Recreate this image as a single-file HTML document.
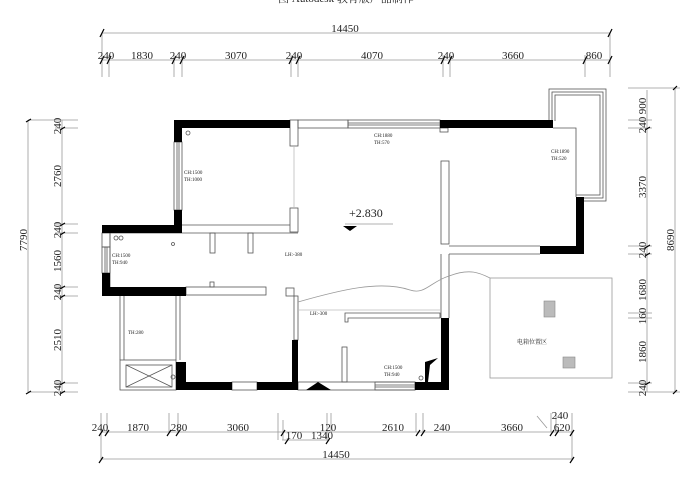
<!DOCTYPE html>
<html><head><meta charset="utf-8"><style>
html,body{margin:0;padding:0;background:#fff;width:693px;height:477px;overflow:hidden}
svg{display:block}
text{font-family:"Liberation Serif","Noto Serif CJK SC",serif;fill:#222}
</style></head><body>
<svg width="693" height="477" viewBox="0 0 693 477">
<g stroke="#999" stroke-width="0.8" fill="none">
<line x1="102" y1="33" x2="610" y2="33"/>
<line x1="102" y1="60" x2="610" y2="60"/>
<line x1="102" y1="33" x2="102" y2="77"/><line x1="610" y1="33" x2="610" y2="77"/>
<line x1="109" y1="55" x2="109" y2="77"/><line x1="174" y1="55" x2="174" y2="77"/><line x1="182" y1="55" x2="182" y2="77"/>
<line x1="291" y1="55" x2="291" y2="77"/><line x1="298" y1="55" x2="298" y2="77"/><line x1="443" y1="55" x2="443" y2="77"/>
<line x1="450" y1="55" x2="450" y2="77"/><line x1="585" y1="55" x2="585" y2="77"/>
<line x1="28" y1="120" x2="28" y2="392"/><line x1="62" y1="120" x2="62" y2="392"/>
<line x1="28" y1="120" x2="78" y2="120"/><line x1="28" y1="392" x2="78" y2="392"/>
<line x1="55" y1="128" x2="78" y2="128"/><line x1="55" y1="224" x2="78" y2="224"/><line x1="55" y1="233" x2="78" y2="233"/>
<line x1="55" y1="287" x2="78" y2="287"/><line x1="55" y1="296" x2="78" y2="296"/><line x1="55" y1="383" x2="78" y2="383"/>
<line x1="647" y1="90" x2="647" y2="392"/><line x1="675" y1="88" x2="675" y2="392"/>
<line x1="628" y1="88" x2="680" y2="88"/><line x1="628" y1="392" x2="680" y2="392"/>
<line x1="628" y1="120" x2="652" y2="120"/><line x1="628" y1="128" x2="652" y2="128"/>
<line x1="628" y1="246" x2="652" y2="246"/><line x1="628" y1="254" x2="652" y2="254"/>
<line x1="628" y1="313" x2="652" y2="313"/><line x1="628" y1="318" x2="652" y2="318"/><line x1="628" y1="383" x2="652" y2="383"/>
<line x1="101" y1="432" x2="572" y2="432"/><line x1="101" y1="459" x2="572" y2="459"/>
<line x1="282" y1="440" x2="328" y2="440"/>
<line x1="101" y1="413" x2="101" y2="459"/><line x1="572" y1="413" x2="572" y2="459"/>
<line x1="107" y1="413" x2="107" y2="432"/><line x1="169" y1="413" x2="169" y2="432"/><line x1="178" y1="413" x2="178" y2="432"/>
<line x1="278" y1="413" x2="278" y2="440"/><line x1="283" y1="420" x2="283" y2="440"/><line x1="327" y1="413" x2="327" y2="440"/>
<line x1="331" y1="413" x2="331" y2="432"/><line x1="416" y1="413" x2="416" y2="432"/><line x1="423" y1="413" x2="423" y2="432"/>
<line x1="551" y1="413" x2="551" y2="432"/><line x1="556" y1="413" x2="556" y2="432"/>
<line x1="537" y1="416" x2="547" y2="428"/>
</g>
<g stroke="#000" stroke-width="1.2">
<path d="M100 37l4-8M608 37l4-8M100 64l4-8M107 64l4-8M172 64l4-8M180 64l4-8M289 64l4-8M296 64l4-8M441 64l4-8M448 64l4-8M583 64l4-8M608 64l4-8"/>
<path d="M26 122l5-3M26 394l5-3M60 130l5-3M60 226l5-3M60 235l5-3M60 289l5-3M60 298l5-3M60 385l5-3M60 394l5-3"/>
<path d="M645 130l5-3M645 248l5-3M645 256l5-3M645 385l5-3M673 90l4-4M673 394l4-4"/>
<path d="M99 436l4-6M105 436l4-6M167 436l4-6M176 436l4-6M281 436l4-6M285 444l4-6M326 444l4-6M416 436l4-6M421 436l4-6M550 436l4-6M555 436l4-6M570 436l4-6M99 463l4-6M570 463l4-6"/>
</g>
<g font-size="11" text-anchor="middle">
<text x="345" y="32">14450</text>
<text x="106" y="59">240</text><text x="142" y="59">1830</text><text x="178" y="59">240</text>
<text x="236" y="59">3070</text><text x="294" y="59">240</text><text x="372" y="59">4070</text>
<text x="446" y="59">240</text><text x="513" y="59">3660</text><text x="594" y="59">860</text>
<text x="100" y="431">240</text><text x="138" y="431">1870</text><text x="179" y="431">280</text>
<text x="238" y="431">3060</text><text x="294" y="439">170</text><text x="322" y="439">1340</text>
<text x="328" y="431">120</text><text x="393" y="431">2610</text><text x="442" y="431">240</text>
<text x="512" y="431">3660</text><text x="560" y="419">240</text><text x="562" y="431">620</text>
<text x="336" y="458">14450</text>
</g>
<g font-size="11" text-anchor="middle">
<text transform="translate(61,126) rotate(-90)">240</text>
<text transform="translate(61,176) rotate(-90)">2760</text>
<text transform="translate(61,230) rotate(-90)">240</text>
<text transform="translate(61,261) rotate(-90)">1560</text>
<text transform="translate(61,292) rotate(-90)">240</text>
<text transform="translate(61,340) rotate(-90)">2510</text>
<text transform="translate(61,388) rotate(-90)">240</text>
<text transform="translate(27,240) rotate(-90)">7790</text>
<text transform="translate(646,106) rotate(-90)">900</text>
<text transform="translate(646,125) rotate(-90)">240</text>
<text transform="translate(646,187) rotate(-90)">3370</text>
<text transform="translate(646,250) rotate(-90)">240</text>
<text transform="translate(646,290) rotate(-90)">1680</text>
<text transform="translate(646,316) rotate(-90)">160</text>
<text transform="translate(646,352) rotate(-90)">1860</text>
<text transform="translate(646,388) rotate(-90)">240</text>
<text transform="translate(674,240) rotate(-90)">8690</text>
</g>
<text x="346" y="2" font-size="11" text-anchor="middle" fill="#000">图 Autodesk 教育版产品制作</text>
<!-- balcony (drawn first, then room interior masks it) -->
<g stroke="#555" stroke-width="0.8" fill="none">
<rect x="549" y="89" width="57" height="112"/><rect x="552" y="92" width="51" height="106"/><rect x="555" y="95" width="45" height="100"/>
</g>
<rect x="548" y="121" width="28" height="82" fill="#fff"/>
<g stroke="#555" stroke-width="0.8" fill="none">
<rect x="290" y="120" width="8" height="26"/><rect x="290" y="208" width="8" height="24"/>
<line x1="294" y1="146" x2="294" y2="208" stroke="#bbb"/>
<rect x="298" y="120" width="50" height="8"/>
<rect x="348" y="120" width="92" height="8"/><line x1="348" y1="123" x2="440" y2="123"/><line x1="348" y1="125" x2="440" y2="125"/>
<rect x="440" y="128" width="8" height="4"/>
<rect x="441" y="161" width="8" height="83"/>
<path d="M449 246H540M449 254H540M449 254V318"/>
<path d="M441 254V318"/>
<path d="M553 128H576V197"/>
<rect x="174" y="142" width="8" height="68"/><line x1="177" y1="142" x2="177" y2="210"/><line x1="179" y1="142" x2="179" y2="210"/>
<line x1="182" y1="225" x2="290" y2="225"/>
<path d="M110 233H298"/>
<path d="M110 233V287"/>
<rect x="102" y="233" width="8" height="14"/><rect x="102" y="247" width="8" height="26"/><line x1="105" y1="247" x2="105" y2="273"/><line x1="107" y1="247" x2="107" y2="273"/>
<rect x="210" y="233" width="5" height="20"/><rect x="248" y="233" width="5" height="20"/>
<rect x="186" y="287" width="80" height="8"/><rect x="210" y="282" width="4" height="5"/>
<rect x="286" y="288" width="8" height="8"/><rect x="294" y="296" width="4" height="44"/>
<line x1="298" y1="310" x2="440" y2="310" stroke="#bbb"/>
<path d="M345 318V313H440V318H348V322H345Z"/>
<rect x="342" y="347" width="5" height="35"/>
<path d="M120 296V360M124 296V360M176 296V360M180 296V360"/>
<rect x="120" y="360" width="56" height="30"/><rect x="126" y="365" width="46" height="22"/>
<path d="M126 365L172 387M172 365L126 387"/>
<rect x="232" y="382" width="25" height="8"/>
<rect x="298" y="382" width="117" height="8"/><rect x="375" y="382" width="40" height="8"/><line x1="375" y1="385" x2="415" y2="385"/><line x1="375" y1="387" x2="415" y2="387"/>
<rect x="490" y="278" width="122" height="100" stroke="#999"/>
<path d="M298 302C340 290 380 280 410 290C425 295 430 282 449 276C470 268 480 273 490 278" stroke="#999"/>
<circle cx="188" cy="133" r="2"/><circle cx="116" cy="238" r="2"/><circle cx="121" cy="238" r="2"/><circle cx="173" cy="244" r="1.5"/>
<circle cx="173" cy="377" r="2"/><circle cx="421" cy="378" r="2"/>
</g>
<g fill="#000">
<rect x="174" y="120" width="116" height="8"/><rect x="174" y="120" width="8" height="22"/>
<rect x="174" y="210" width="8" height="23"/><rect x="102" y="225" width="80" height="8"/>
<rect x="440" y="120" width="113" height="8"/>
<rect x="576" y="197" width="8" height="57"/><rect x="540" y="246" width="44" height="8"/>
<rect x="102" y="273" width="8" height="23"/><rect x="102" y="287" width="84" height="9"/>
<rect x="176" y="362" width="10" height="28"/><rect x="176" y="382" width="56" height="8"/>
<rect x="257" y="382" width="41" height="8"/><rect x="292" y="340" width="6" height="50"/>
<rect x="415" y="382" width="33" height="8"/><rect x="441" y="318" width="8" height="72"/>
<path d="M306 390L318 382L331 390Z"/>
<path d="M425 382V362L438 358L430 365L428 382Z"/>
</g>
<g fill="#bbb" stroke="#888" stroke-width="0.6">
<rect x="544" y="301" width="11" height="16"/><rect x="563" y="357" width="12" height="11"/>
</g>
<path d="M343 226h14l-7 5z" fill="#000"/>
<line x1="345" y1="224" x2="393" y2="224" stroke="#999" stroke-width="0.8"/>
<text x="349" y="217" font-size="12">+2.830</text>
<g font-size="5" fill="#444">
<text x="184" y="174">CH:1500</text><text x="184" y="181">TH:1000</text>
<text x="374" y="137">CH:1880</text><text x="374" y="144">TH:570</text>
<text x="551" y="153">CH:1890</text><text x="551" y="160">TH:520</text>
<text x="112" y="257">CH:1500</text><text x="112" y="264">TH:940</text>
<text x="285" y="256">LH:-380</text><text x="310" y="315">LH:-300</text>
<text x="128" y="334">TH:280</text>
<text x="384" y="369">CH:1500</text><text x="384" y="376">TH:940</text>
<text x="517" y="344" font-size="6">电箱位置区</text>
</g>
</svg>
</body></html>
